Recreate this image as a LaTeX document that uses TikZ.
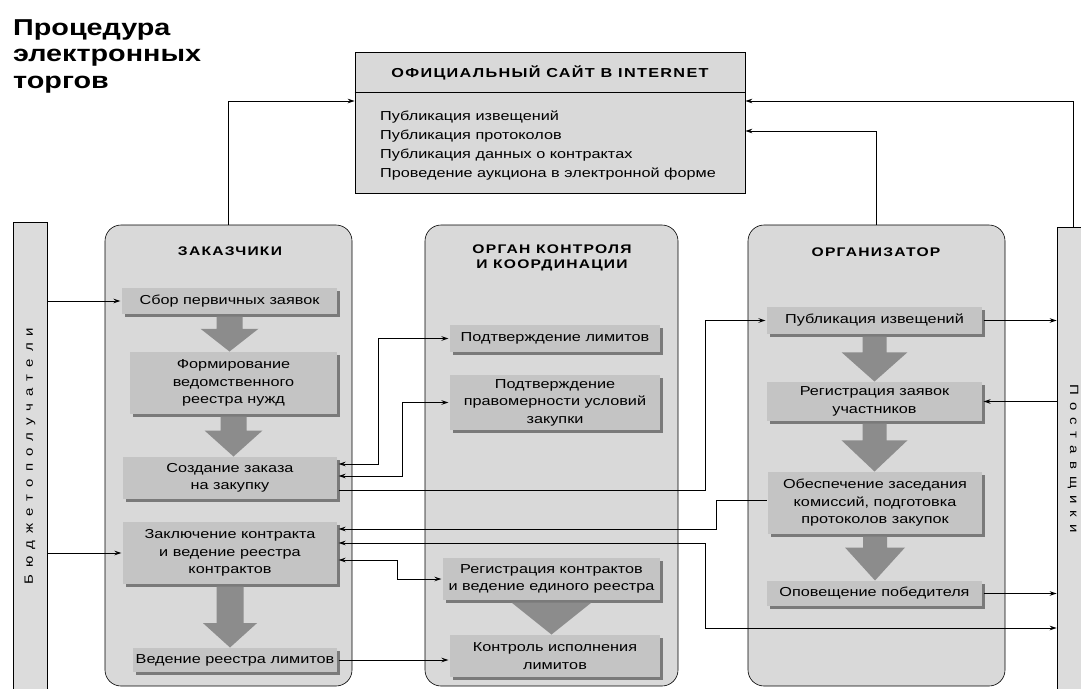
\documentclass[tikz,border=0pt]{standalone}
\usepackage{fontspec}
\setmainfont{Liberation Sans}[FakeStretch=1.25]
\newfontfamily\spacedfont{Liberation Sans}[FakeStretch=1.25, LetterSpace=10]
\usetikzlibrary{arrows.meta, calc, shadows}

\definecolor{panelgray}{HTML}{D9D9D9}
\definecolor{boxgray}{HTML}{C4C4C4}
\definecolor{shadowgray}{HTML}{7A7A7A}
\definecolor{blockgray}{HTML}{8C8C8C}
\definecolor{bargray}{HTML}{DCDCDC}

\tikzset{
  panel/.style={draw=black, line width=0.6pt, fill=panelgray, rounded corners=16pt, inner sep=0pt},
  stepbox/.style={fill=boxgray, inner sep=0pt, outer sep=1.5pt, align=center,
    font=\fontsize{13}{17.5}\selectfont,
    general shadow={fill=shadowgray, shadow xshift=2.5pt, shadow yshift=-2.5pt}},
  heading/.style={font=\spacedfont\bfseries\fontsize{12.5}{15.5}\selectfont, align=center, inner sep=0pt},
  bar/.style={draw=black, line width=0.6pt, fill=bargray, inner sep=0pt, font=\fontsize{12}{14}\selectfont},
  tip/.tip={Stealth[length=7pt, width=4.5pt, fill=gray!55]},
  conn/.style={line width=0.8pt, -tip},
  conn2/.style={line width=0.8pt, tip-tip},
  flow/.style={fill=blockgray},
}

% block arrow between two step boxes: from, to, shaft half width, head half width, shaft share
\newcommand\flowarrow[5]{%
  \fill[flow] let \p1=(#1.south), \p2=(#2.north),
      \n1={\y1-1pt}, \n2={\y2-1pt}, \n3={\n1-#5*(\n1-\n2)} in
    ({\x1-#3},{\n1+0pt}) -- ({\x1+#3},{\n1+0pt}) -- ({\x1+#3},{\n3+0pt}) --
    ({\x1+#4},{\n3+0pt}) -- ({\x1+0pt},{\n2+0pt}) -- ({\x1-#4},{\n3+0pt}) --
    ({\x1-#3},{\n3+0pt}) -- cycle;}

\begin{document}
\begin{tikzpicture}[x=1pt, y=-1pt]
\useasboundingbox (0,0) rectangle (1081,688);

% title
\node[anchor=north west, align=left, inner sep=0pt,
      font=\bfseries\fontsize{23}{26.5}\selectfont] (title) at (13,19)
  {Процедура\\электронных\\торгов};

% official site
\node[draw=black, line width=0.6pt, fill=panelgray, minimum width=390pt,
      minimum height=141pt, inner sep=0pt] (site) at (550,122.5) {};
\draw[line width=0.6pt] ([yshift=-41pt]site.north west) -- ([yshift=-41pt]site.north east);
\node[heading, font=\spacedfont\bfseries\fontsize{13}{15}\selectfont] (sitehead) at (550,73)
  {ОФИЦИАЛЬНЫЙ САЙТ В INTERNET};
\node[anchor=north west, align=left, inner sep=0pt, font=\fontsize{13}{19}\selectfont]
  (sitelist) at (380,111)
  {Публикация извещений\\Публикация протоколов\\Публикация данных о контрактах\\Проведение аукциона в электронной форме};

% side bars
\node[bar, rotate=90, minimum width=468pt, minimum height=34pt] (budg) at (30,456)
  {\spaceskip=7pt Б ю д ж е т о п о л у ч а т е л и};
\node[bar, rotate=-90, minimum width=463pt, minimum height=32pt] (post) at (1073,458.5)
  {\spaceskip=7pt П о с т а в щ и к и};

% panels
\node[panel, minimum width=247pt, minimum height=461pt] (zak) at (228.5,455.5) {};
\node[panel, minimum width=253pt, minimum height=461pt] (ctl) at (551.5,455.5) {};
\node[panel, minimum width=257pt, minimum height=461pt] (org) at (876.5,455.5) {};
\node[heading] (zakhead) at (230,251) {ЗАКАЗЧИКИ};
\node[heading] (ctlhead) at (552,258) {ОРГАН КОНТРОЛЯ\\И КООРДИНАЦИИ};
\node[heading] (orghead) at (876,252) {ОРГАНИЗАТОР};

% customers
\node[stepbox, minimum width=215pt, minimum height=26pt] (L1) at (229.5,301) {Сбор первичных заявок};
\node[stepbox, minimum width=207pt, minimum height=62pt] (L2) at (233.5,383) {Формирование\\ведомственного\\реестра нужд};
\node[stepbox, minimum width=214pt, minimum height=42pt] (L3) at (230,478) {Создание заказа\\на закупку};
\node[stepbox, minimum width=214pt, minimum height=62pt] (L4) at (230,553) {Заключение контракта\\и ведение реестра\\контрактов};
\node[stepbox, minimum width=204pt, minimum height=24pt] (L5) at (235,660) {Ведение реестра лимитов};

% control body
\node[stepbox, minimum width=210pt, minimum height=27pt] (M1) at (555,338.5) {Подтверждение лимитов};
\node[stepbox, minimum width=210pt, minimum height=55pt] (M2) at (555,402.5) {Подтверждение\\правомерности условий\\закупки};
\node[stepbox, minimum width=217pt, minimum height=42pt] (M3) at (551.5,579) {Регистрация контрактов\\и ведение единого реестра};
\node[stepbox, minimum width=210pt, minimum height=42pt] (M4) at (555,656) {Контроль исполнения\\лимитов};

% organizer
\node[stepbox, minimum width=215pt, minimum height=27pt] (R1) at (874.5,320.5) {Публикация извещений};
\node[stepbox, minimum width=215pt, minimum height=39pt] (R2) at (874.5,401.5) {Регистрация заявок\\участников};
\node[stepbox, minimum width=214pt, minimum height=62pt] (R3) at (875,503) {Обеспечение заседания\\комиссий, подготовка\\протоколов закупок};
\node[stepbox, minimum width=215pt, minimum height=25pt] (R4) at (874.5,593.5) {Оповещение победителя};

% sequence arrows
\flowarrow{L1}{L2}{13pt}{29pt}{0.35}
\flowarrow{L2}{L3}{13pt}{29pt}{0.35}
\flowarrow{L4}{L5}{13.5pt}{27pt}{0.6}
\flowarrow{M3}{M4}{0pt}{40pt}{0}
\flowarrow{R1}{R2}{12pt}{33pt}{0.35}
\flowarrow{R2}{R3}{12pt}{33pt}{0.35}
\flowarrow{R3}{R4}{12pt}{30pt}{0.25}

% links to the official site
\draw[conn] (zak.north) |- ([yshift=21.5pt]site.west);
\draw[conn] (org.north) |- ([yshift=-8.5pt]site.east);
\draw[conn] (post.west) |- ([yshift=21.5pt]site.east);

% budget recipients
\draw[conn] (L1.west -| budg.south) -- (L1.west);
\draw[conn] (L4.west -| budg.south) -- (L4.west);

% customers and control body
\draw[conn2] ([yshift=14pt]L3.east) -- ++(40pt,0pt) |- (M1.west);
\draw[conn2] ([yshift=2pt]L3.east) -- ++(64pt,0pt) |- (M2.west);
\draw[conn2] ([yshift=-7pt]L4.east) -- ++(59pt,0pt) |- (M3.west);
\draw[conn] (L5.east) -- (L5.east -| M4.west);

% customers and organizer
\draw[conn] ([yshift=-12pt]L3.east) -- ++(367pt,0pt) |- (R1.west);
\draw[conn] ([yshift=3pt]R3.west) -- ++(-50pt,0pt) |- ([yshift=24pt]L4.east);
\draw[conn2] ([yshift=10pt]L4.east) -- ++(367pt,0pt) |- (post.south |- 0,628);

% organizer and suppliers
\draw[conn] (R1.east) -- (R1.east -| post.south);
\draw[conn] (R2.east -| post.south) -- (R2.east);
\draw[conn] (R4.east) -- (R4.east -| post.south);
\end{tikzpicture}
\end{document}
